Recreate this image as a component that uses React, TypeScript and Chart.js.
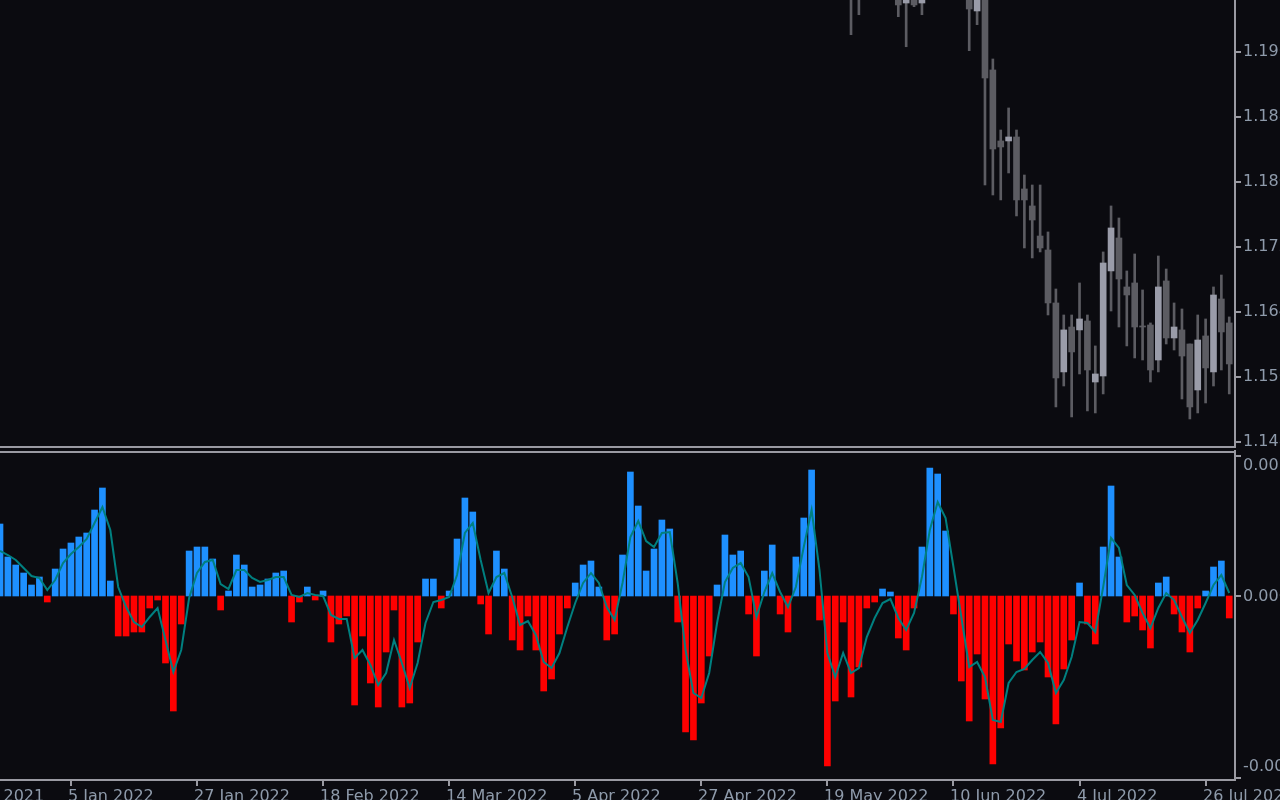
import React, { useEffect, useRef } from "react";
import { Chart, registerables } from "chart.js";

Chart.register(...registerables);

// ---------- data ----------
// Oscillator histogram (one value per daily bar, bar 0 = 23 Dec 2021)
const histogram = [
  0.00072, 0.00039, 0.00031, 0.00023, 0.00011, 0.00019, -0.00006, 0.00027, 0.00047, 0.00053,
  0.00059, 0.00063, 0.00086, 0.00108, 0.00015, -0.0004, -0.0004, -0.00036, -0.00036, -0.00012,
  -0.00004, -0.00067, -0.00115, -0.00028, 0.00045, 0.00049, 0.00049, 0.00037, -0.00014, 0.00005,
  0.00041, 0.00031, 0.00009, 0.00011, 0.00017, 0.00023, 0.00025, -0.00026, -0.00006, 0.00009,
  -0.00004, 0.00005, -0.00046, -0.00028, -0.0002, -0.00109, -0.0004, -0.00087, -0.00111, -0.00056,
  -0.00014, -0.00111, -0.00107, -0.00046, 0.00017, 0.00017, -0.00012, 0.00005, 0.00057, 0.00098,
  0.00084, -0.00008, -0.00038, 0.00045, 0.00027, -0.00044, -0.00054, -0.0002, -0.00054, -0.00095,
  -0.00083, -0.00038, -0.00012, 0.00013, 0.00031, 0.00035, 0.00009, -0.00044, -0.00038, 0.00041,
  0.00124, 0.0009, 0.00025, 0.00047, 0.00076, 0.00067, -0.00026, -0.00136, -0.00144, -0.00107,
  -0.0006, 0.00011, 0.00061, 0.00041, 0.00045, -0.00018, -0.0006, 0.00025, 0.00051, -0.00018,
  -0.00036, 0.00039, 0.00078, 0.00126, -0.00024, -0.0017, -0.00105, -0.00026, -0.00101, -0.00071,
  -0.00012, -0.00006, 0.00007, 0.00004, -0.00042, -0.00054, -0.00012, 0.00049, 0.00128, 0.00122,
  0.00065, -0.00018, -0.00085, -0.00125, -0.00058, -0.00103, -0.00168, -0.00132, -0.00048, -0.00065,
  -0.00074, -0.00056, -0.00046, -0.00081, -0.00128, -0.00073, -0.00044, 0.00013, -0.00028, -0.00048,
  0.00049, 0.0011, 0.00039, -0.00026, -0.0002, -0.00034, -0.00052, 0.00013, 0.00019, -0.00018,
  -0.00036, -0.00056, -0.00012, 0.00005, 0.00029, 0.00035, -0.00022,
];

// Signal line of the oscillator
const signal = [
  0.00045, 0.00041, 0.00036, 0.00028, 0.0002, 0.00018, 0.00006, 0.00016, 0.00033, 0.00042,
  0.00049, 0.00057, 0.00073, 0.00089, 0.00066, 0.00009, -0.00011, -0.00026, -0.00031, -0.00021,
  -0.00012, -0.00044, -0.00076, -0.00054, -0.00002, 0.00023, 0.00034, 0.00036, 0.00012, 0.00007,
  0.00026, 0.00026, 0.00018, 0.00014, 0.00016, 0.00019, 0.00019, 0.00001, -0.00001, 0.00003,
  0.00001, 0, -0.00019, -0.00023, -0.00023, -0.00062, -0.00054, -0.00069, -0.00089, -0.00077,
  -0.00044, -0.00067, -0.00092, -0.00067, -0.00027, -0.00006, -0.00004, -0.00001, 0.00021, 0.00063,
  0.00073, 0.00036, 0.00003, 0.00019, 0.00023, -0.00001, -0.00029, -0.00025, -0.00039, -0.00066,
  -0.00072, -0.00057, -0.00031, -0.00007, 0.00013, 0.00023, 0.00013, -0.00011, -0.00024, 0.00013,
  0.00059, 0.00075, 0.00055, 0.00049, 0.00063, 0.00064, 0.00013, -0.00054, -0.00097, -0.00102,
  -0.00077, -0.00027, 0.00014, 0.00028, 0.00033, 0.00019, -0.00021, 0.00004, 0.00023, 0.00004,
  -0.00011, 0.00009, 0.00049, 0.00086, 0.00026, -0.00057, -0.00081, -0.00057, -0.00077, -0.00072,
  -0.00041, -0.00022, -0.00007, -0.00003, -0.00022, -0.00034, -0.00017, 0.00019, 0.00066, 0.00094,
  0.00078, 0.00029, -0.00021, -0.00071, -0.00066, -0.00081, -0.00124, -0.00126, -0.00087, -0.00076,
  -0.00073, -0.00064, -0.00056, -0.00067, -0.00097, -0.00084, -0.00061, -0.00026, -0.00027, -0.00036,
  0.00009, 0.00058, 0.00048, 0.00011, 0.00001, -0.00017, -0.00032, -0.00012, 0.00003, -0.00004,
  -0.00021, -0.00037, -0.00024, -0.00007, 0.00011, 0.00021, 0.00003,
];

// Price candles that fall (at least partly) inside the visible price window
const candleIndex = [
  108, 109, 114, 115, 116, 117, 123, 124, 125, 126, 127, 128, 129, 130, 131, 132, 133, 134, 135,
  136, 137, 138, 139, 140, 141, 142, 143, 144, 145, 146, 147, 148, 149, 150, 151, 152, 153, 154,
  155, 156,
];
const candleOpen = [
  1.20609, 1.20339, 1.20363, 1.20203, 1.20388, 1.20203, 1.20425, 1.20105, 1.20302, 1.19379,
  1.18505, 1.18505, 1.18554, 1.17914, 1.17705, 1.17335, 1.17163, 1.16511, 1.15662, 1.16215,
  1.16179, 1.16289, 1.15538, 1.15612, 1.16905, 1.17311, 1.16708, 1.16757, 1.16228, 1.1624,
  1.15809, 1.16782, 1.1608, 1.16179, 1.16006, 1.1544, 1.16105, 1.15662, 1.1656, 1.16265,
];
const candleHigh = [
  1.20856, 1.20733, 1.20548, 1.20486, 1.20486, 1.20511, 1.20548, 1.20486, 1.20425, 1.19514,
  1.1864, 1.18911, 1.1864, 1.18086, 1.17963, 1.17963, 1.17385, 1.16683, 1.16363, 1.16363,
  1.16757, 1.16363, 1.15982, 1.17139, 1.17705, 1.17557, 1.16905, 1.17114, 1.16671, 1.16265,
  1.17089, 1.16929, 1.16511, 1.16437, 1.16006, 1.16363, 1.16314, 1.16708, 1.16855, 1.16339,
];
const candleLow = [
  1.19813, 1.20059, 1.20035, 1.19665, 1.20158, 1.20059, 1.19616, 1.19936, 1.17963, 1.1784,
  1.17779, 1.18111, 1.17582, 1.17188, 1.17065, 1.17139, 1.16363, 1.15231, 1.15489, 1.15108,
  1.15637, 1.15182, 1.15157, 1.15391, 1.16412, 1.16215, 1.15982, 1.15834, 1.15809, 1.15538,
  1.15662, 1.16006, 1.15932, 1.15329, 1.15083, 1.15157, 1.1528, 1.15489, 1.15686, 1.15391,
];
const candleClose = [
  1.20302, 1.20548, 1.20179, 1.20339, 1.20179, 1.20363, 1.20129, 1.20388, 1.1928, 1.18406,
  1.18431, 1.18554, 1.17779, 1.17779, 1.17532, 1.17188, 1.16511, 1.15588, 1.16179, 1.15908,
  1.16314, 1.15686, 1.15637, 1.17003, 1.17434, 1.16806, 1.16609, 1.16215, 1.16215, 1.15686,
  1.16708, 1.1608, 1.16215, 1.15858, 1.15231, 1.16055, 1.15711, 1.16609, 1.16154, 1.1576,
];

// Axis ticks
const priceTicks = [1.196, 1.188, 1.18, 1.172, 1.164, 1.156, 1.148];
const oscTicks = [0.0014, 0, -0.00182];
const dateTickIndex = [-7, 9, 25, 41, 57, 73, 89, 105, 121, 137, 153];
const dateTickLabels = [
  "14 Dec 2021", "5 Jan 2022", "27 Jan 2022", "18 Feb 2022", "14 Mar 2022", "5 Apr 2022",
  "27 Apr 2022", "19 May 2022", "10 Jun 2022", "4 Jul 2022", "26 Jul 2022",
];

// Visible windows
const X_MIN = 0;
const X_MAX = 156.73;
const PRICE_MIN = 1.14738;
const PRICE_MAX = 1.2024;
const OSC_MIN = -0.00184;
const OSC_MAX = 0.00144;

// ---------- styles ----------
const BG = "#0b0b10";
const AXIS = "#9a9aa2";
const TEXT = "#8e9aaa";
const BLUE = "#1e90ff";
const RED = "#ff0000";
const TEAL = "#008080";
const BULL = "#9a9ca9";
const BEAR = "#5c5c62";
const WICK = "#5c5c62";
const FONT = '16px "DejaVu Sans"';

const bgPlugin = {
  id: "bg",
  beforeDraw(chart: any) {
    const c = chart.ctx;
    c.save();
    c.fillStyle = BG;
    c.fillRect(0, 0, chart.width, chart.height);
    c.restore();
  },
};

const priceAxisPlugin = {
  id: "priceAxis",
  afterDraw(chart: any) {
    const c = chart.ctx;
    const { right, bottom } = chart.chartArea;
    const y = chart.scales.y;
    c.save();
    c.fillStyle = AXIS;
    c.fillRect(Math.round(right) - 1, 0, 2, Math.round(bottom) + 1);
    c.fillRect(0, Math.round(bottom) - 1, Math.round(right) + 1, 2);
    c.font = FONT;
    c.textAlign = "left";
    c.textBaseline = "middle";
    priceTicks.forEach((v) => {
      const py = Math.round(y.getPixelForValue(v));
      c.fillStyle = AXIS;
      c.fillRect(Math.round(right) + 1, py - 1, 5, 2);
      c.fillStyle = TEXT;
      c.fillText(v.toFixed(5), right + 8, py);
    });
    c.restore();
  },
};

const oscAxisPlugin = {
  id: "oscAxis",
  afterDraw(chart: any) {
    const c = chart.ctx;
    const { right, top, bottom } = chart.chartArea;
    const y = chart.scales.y;
    const x = chart.scales.x;
    c.save();
    c.fillStyle = AXIS;
    const r = Math.round(right);
    c.fillRect(r - 1, 0, 2, Math.round(bottom) + 1);
    c.fillRect(0, Math.round(top) - 1, r + 1, 2);
    c.fillRect(0, Math.round(bottom) - 1, r + 1, 2);
    c.font = FONT;
    c.textAlign = "left";
    c.textBaseline = "middle";
    oscTicks.forEach((v, k) => {
      const py = Math.round(y.getPixelForValue(v));
      c.fillStyle = AXIS;
      c.fillRect(r + 1, py - 1, 5, 2);
      c.fillStyle = TEXT;
      const shift = k === 0 ? 10 : k === oscTicks.length - 1 ? -11 : 1;
      c.fillText(v.toFixed(5), right + 8, py + shift);
    });
    c.textBaseline = "alphabetic";
    dateTickIndex.forEach((idx, k) => {
      const px = Math.round(x.getPixelForValue(idx));
      c.fillStyle = AXIS;
      c.fillRect(px - 1, Math.round(bottom), 2, 6);
      c.fillStyle = TEXT;
      c.fillText(dateTickLabels[k], px - 3, bottom + 21);
    });
    c.restore();
  },
};

export default function App() {
  const topRef = useRef<HTMLCanvasElement | null>(null);
  const botRef = useRef<HTMLCanvasElement | null>(null);

  useEffect(() => {
    const topCanvas = topRef.current!;
    const botCanvas = botRef.current!;

    const priceChart = new Chart(topCanvas, {
      type: "bar",
      data: {
        datasets: [
          {
            data: candleIndex.map((xi, k) => ({ x: xi, y: [candleLow[k], candleHigh[k]] })) as any,
            backgroundColor: WICK,
            barThickness: 2,
            grouped: false,
            order: 2,
          } as any,
          {
            data: candleIndex.map((xi, k) => ({ x: xi, y: [candleOpen[k], candleClose[k]] })) as any,
            backgroundColor: candleIndex.map((_, k) => (candleClose[k] >= candleOpen[k] ? BULL : BEAR)),
            barThickness: 6,
            minBarLength: 1,
            grouped: false,
            order: 1,
          } as any,
        ],
      },
      options: {
        responsive: false,
        animation: false,
        events: [],
        layout: { padding: { left: 0, right: 45, top: 0, bottom: 3 } },
        scales: {
          x: { type: "linear", min: X_MIN, max: X_MAX, offset: false, display: false },
          y: { type: "linear", min: PRICE_MIN, max: PRICE_MAX, display: false },
        },
        plugins: { legend: { display: false }, tooltip: { enabled: false } },
      },
      plugins: [bgPlugin, priceAxisPlugin],
    });

    const oscChart = new Chart(botCanvas, {
      type: "bar",
      data: {
        datasets: [
          {
            type: "line",
            data: signal.map((v, i) => ({ x: i, y: v })),
            borderColor: TEAL,
            borderWidth: 2,
            pointRadius: 0,
            tension: 0,
            order: 0,
          } as any,
          {
            type: "bar",
            data: histogram.map((v, i) => ({ x: i, y: v })),
            backgroundColor: histogram.map((v) => (v >= 0 ? BLUE : RED)),
            barThickness: 6,
            grouped: false,
            order: 1,
          } as any,
        ],
      },
      options: {
        responsive: false,
        animation: false,
        events: [],
        layout: { padding: { left: 0, right: 45, top: 2, bottom: 20 } },
        scales: {
          x: { type: "linear", min: X_MIN, max: X_MAX, offset: false, display: false },
          y: { type: "linear", min: OSC_MIN, max: OSC_MAX, display: false },
        },
        plugins: { legend: { display: false }, tooltip: { enabled: false } },
      },
      plugins: [bgPlugin, oscAxisPlugin],
    });

    return () => {
      priceChart.destroy();
      oscChart.destroy();
    };
  }, []);

  return (
    <div style={{ position: "fixed", left: 0, top: 0, width: 1280, height: 800, background: BG, overflow: "hidden" }}>
      <canvas ref={topRef} width={1280} height={450} style={{ position: "absolute", left: 0, top: 0, width: 1280, height: 450 }} />
      <canvas ref={botRef} width={1280} height={350} style={{ position: "absolute", left: 0, top: 450, width: 1280, height: 350 }} />
    </div>
  );
}
